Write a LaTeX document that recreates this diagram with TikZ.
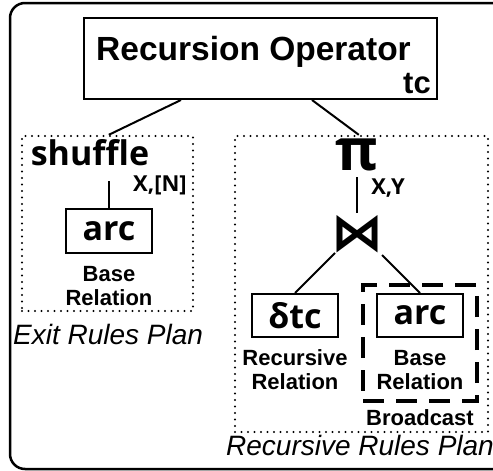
\documentclass[tikz,border=0pt]{standalone}
\usepackage{fontspec}
\setmainfont{Liberation Sans}
\newfontfamily\lucb{Open Sans}
\newfontfamily\dejab{DejaVu Sans}
\newcommand\fsz[1]{\fontsize{#1}{#1}\selectfont}
\tikzset{
  box/.style={draw, line width=2pt, inner sep=0pt},
  txt/.style={inner sep=0pt},
  dotbox/.style={draw, line width=2.4pt, line cap=round, dash pattern=on 0pt off 6.5pt},
  conn/.style={line width=2pt},
  sym/.style={inner sep=0pt, font=\lucb\bfseries\fsz{34}},
  lbl/.style={inner sep=0pt, font=\bfseries\fsz{22}},
  plan/.style={inner sep=0pt, anchor=base west, font=\itshape\fsz{28}},
}
\begin{document}
\begin{tikzpicture}[x=1pt, y=-1pt]
\useasboundingbox (0,0) rectangle (493,471);
% outer frame
\draw[line width=2.5pt, rounded corners=15pt] (10,3) rectangle (510,469);
% recursion operator
\node[box, minimum width=353pt, minimum height=81pt] (op) at (260.5,58.5) {};
\node[txt, anchor=base west, font=\bfseries\fsz{33.5}] (optxt) at (96,60) {Recursion Operator};
\node[txt, anchor=base east, font=\bfseries\fsz{31}] (tc) at (431,93) {tc};
% plan boxes
\node[dotbox, minimum width=171pt, minimum height=175pt, inner sep=0pt] (lbox) at (107.5,223.5) {};
\node[dotbox, minimum width=253pt, minimum height=296pt, inner sep=0pt] (rbox) at (361.5,284) {};
\node[plan] (lplan) at (13,344) {Exit Rules Plan};
\node[plan] (rplan) at (226,455) {Recursive Rules Plan};
% exit rules plan
\node[sym, anchor=base] (shuf) at (90,165) {shuffle};
\node[txt, font=\lucb\bfseries\fsz{22}] (xn) at (160,185) {X,[N]};
\node[box, sym, minimum width=86pt, minimum height=44pt] (arcl) at (109,231) {arc};
\node[lbl, align=center] (basel) at (109,286) {Base\\[2pt]Relation};
% recursive rules plan
\node[txt, font=\lucb\bfseries\fsz{58}] (pi) at (357,155) {π};
\node[txt, font=\lucb\bfseries\fsz{22}] (xy) at (388,188) {X,Y};
\node[txt, font=\dejab\bfseries\fsz{52}] (bow) at (357,234) {⋈};
\node[box, sym, minimum width=86pt, minimum height=43pt] (dtc) at (295,315.5) {δtc};
\node[box, sym, minimum width=86pt, minimum height=43pt] (arcr) at (420,315.5) {arc};
\node[draw, line width=4.8pt, dash pattern=on 21pt off 12pt, minimum width=114pt, minimum height=116pt, inner sep=0pt] (bcast) at (420,343) {};
\node[lbl, align=center] (recrel) at (295,370) {Recursive\\[2pt]Relation};
\node[lbl, align=center] (baser) at (420,370) {Base\\[2pt]Relation};
\node[lbl] (bclbl) at (420,418) {Broadcast};
% connectors
\draw[conn] ([xshift=98pt]op.south west) -- ([xshift=88pt]lbox.north west);
\draw[conn] ([xshift=229pt]op.south west) -- ([xshift=125pt]rbox.north west);
\draw[conn] (arcl.north) -- ++(0,-27);
\draw[conn] (357,177) -- (357,213);
\draw[conn] (335,253) -- (dtc.north);
\draw[conn] (382,255) -- (arcr.north);
\end{tikzpicture}
\end{document}
